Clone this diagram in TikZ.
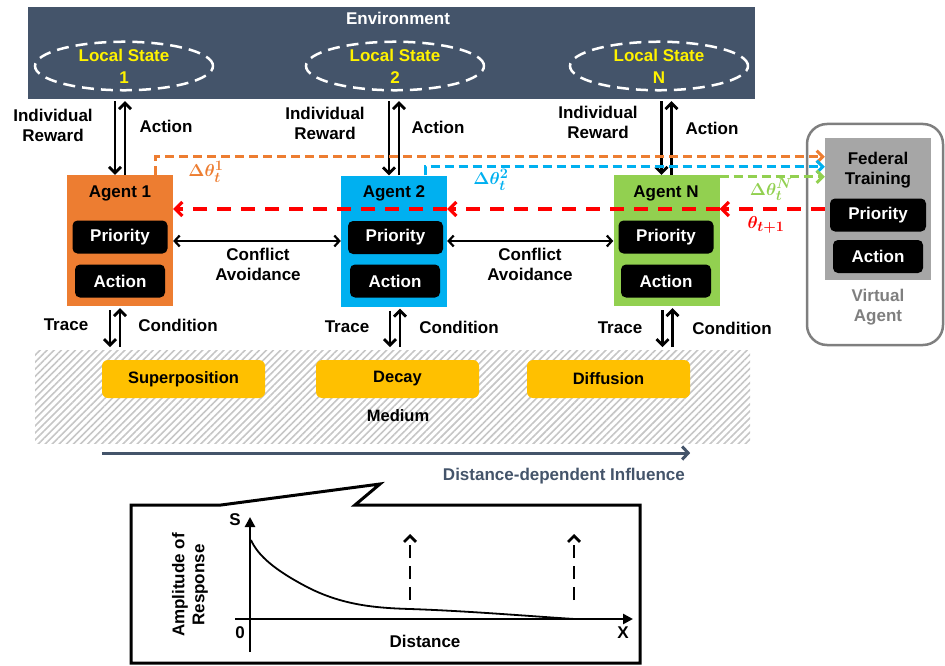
\documentclass[tikz,border=0pt]{standalone}
\usepackage{fontspec}
\usepackage{amsmath}
\usepackage{bm}
\setmainfont{Liberation Sans}
\usetikzlibrary{positioning, arrows.meta, calc, shapes.geometric, patterns.meta}

\definecolor{envblue}{HTML}{44546A}
\definecolor{agentorange}{HTML}{ED7D31}
\definecolor{agentblue}{HTML}{00B0F0}
\definecolor{agentgreen}{HTML}{92D050}
\definecolor{medyellow}{HTML}{FFC000}
\definecolor{fedgray}{HTML}{A6A6A6}
\definecolor{vgray}{HTML}{7F7F7F}

\begin{document}
\begin{tikzpicture}[
        x=1pt, y=-1pt,
        font=\fontsize{17}{20}\selectfont\bfseries,
        agent/.style={rectangle, minimum width=106pt, minimum height=131pt, inner sep=0pt},
        blk/.style={rectangle, rounded corners=5pt, fill=black, text=white, minimum height=33pt, inner sep=0pt},
        medbox/.style={rectangle, rounded corners=6pt, fill=medyellow, minimum width=163pt, minimum height=38pt, inner sep=0pt, font=\fontsize{16.5}{19}\selectfont\bfseries},
        lstate/.style={ellipse, draw=white, line width=2.5pt, dash pattern=on 12pt off 7pt, minimum width=178pt, minimum height=47pt, inner sep=0pt, text=yellow, align=center, font=\fontsize{17}{22}\selectfont\bfseries},
        lbl/.style={align=center, inner sep=0pt},
        arrow/.style={-{Straight Barb[length=6pt, width=12pt]}, line width=2.8pt},
        biarrow/.style={{Straight Barb[length=5pt, width=11pt]}-{Straight Barb[length=5pt, width=11pt]}, line width=2.2pt},
        dasharrow/.style={-{Straight Barb[length=6pt, width=12pt]}, line width=3pt, dash pattern=on 9pt off 5pt},
        redarrow/.style={-{Straight Barb[length=7pt, width=14pt]}, line width=3.2pt, dash pattern=on 14pt off 10pt, red},
        axis/.style={-{Triangle[length=10pt, width=10pt]}, line width=2.8pt}
    ]
    \useasboundingbox (0,0) rectangle (945,666);

    % environment
    \node[rectangle, fill=envblue, minimum width=727pt, minimum height=92pt, inner sep=0pt] (env) at (391.5,53) {};
    \node[lbl, text=white] (envt) at (398,18) {Environment};
    \node[lstate] (ls1) at (124,66) {Local State\\1};
    \node[lstate] (ls2) at (395,66) {Local State\\2};
    \node[lstate] (lsN) at (659,66) {Local State\\N};

    % agents
    \node[agent, fill=agentorange] (a1) at (120,240.5) {};
    \node[lbl] (a1t) at (120,193) {Agent 1};
    \node[blk, minimum width=95pt] (p1) at (120,237) {Priority};
    \node[blk, minimum width=90pt] (ac1) at (120,281) {Action};

    \node[agent, fill=agentblue] (a2) at (394,241) {};
    \node[lbl] (a2t) at (394,193) {Agent 2};
    \node[blk, minimum width=95pt] (p2) at (395.5,237.5) {Priority};
    \node[blk, minimum width=90pt] (ac2) at (395,281) {Action};

    \node[agent, fill=agentgreen] (aN) at (666.5,240.5) {};
    \node[lbl] (aNt) at (666,193) {Agent N};
    \node[blk, minimum width=95pt] (pN) at (666,237) {Priority};
    \node[blk, minimum width=90pt] (acN) at (666,281) {Action};

    % virtual agent
    \node[rectangle, rounded corners=20pt, draw=vgray, line width=2.5pt, minimum width=136pt, minimum height=221pt] (vbox) at (875,234.5) {};
    \node[rectangle, fill=fedgray, minimum width=106pt, minimum height=142pt, inner sep=0pt] (fed) at (878,209) {};
    \node[lbl] (fedt) at (878,170) {Federal\\Training};
    \node[blk, minimum width=96pt] (fp) at (878,215) {Priority};
    \node[blk, minimum width=90pt] (fa) at (878,256.5) {Action};
    \node[lbl, text=vgray] (vt) at (878,307) {Virtual\\Agent};

    % reward / action
    \draw[arrow] ($(env.south -| a1.north)+(-5,2)$) -- ($(a1.north)+(-5,0)$);
    \draw[arrow] ($(a1.north)+(5,0)$) -- ($(env.south -| a1.north)+(5,2)$);
    \draw[arrow] ($(env.south -| a2.north)+(-5,2)$) -- ($(a2.north)+(-5,0)$);
    \draw[arrow] ($(a2.north)+(5,0)$) -- ($(env.south -| a2.north)+(5,2)$);
    \draw[arrow] ($(env.south -| aN.north)+(-5,2)$) -- ($(aN.north)+(-5,0)$);
    \draw[arrow] ($(aN.north)+(5,0)$) -- ($(env.south -| aN.north)+(5,2)$);
    \node[lbl] (rw1) at (53,125) {Individual\\Reward};
    \node[lbl] (act1) at (166,126) {Action};
    \node[lbl] (rw2) at (325,123) {Individual\\Reward};
    \node[lbl] (act2) at (438,127) {Action};
    \node[lbl] (rwN) at (598,122) {Individual\\Reward};
    \node[lbl] (actN) at (712,128) {Action};

    % federal updates
    \coordinate (inO) at ($(fed.north west)+(0,19)$);
    \coordinate (inB) at ($(fed.north west)+(0,29)$);
    \coordinate (inG) at ($(fed.north west)+(0,39)$);
    \draw[dasharrow, agentorange] ($(a1.north)+(35,0)$) |- (inO);
    \draw[dasharrow, agentblue] ($(a2.north)+(31,0)$) |- (inB);
    \draw[dasharrow, agentgreen] (aN.east |- inG) -- (inG);
    \node[lbl, text=agentorange, font=\fontsize{19}{20}\selectfont] (dt1) at (206,172) {$\bm{\Delta\theta_t^1}$};
    \node[lbl, text=agentblue, font=\fontsize{19}{20}\selectfont] (dt2) at (491,180) {$\bm{\Delta\theta_t^2}$};
    \node[lbl, text=agentgreen, font=\fontsize{19}{20}\selectfont] (dtN) at (771,190) {$\bm{\Delta\theta_t^N}$};

    \draw[redarrow] (fed.west) -- (fed.west -| aN.east);
    \draw[redarrow] (fed.west -| aN.east) -- (fed.west -| a2.east);
    \draw[redarrow] (fed.west -| a2.east) -- (fed.west -| a1.east);
    \node[lbl, text=red, font=\fontsize{19}{20}\selectfont] (thr) at (766,225) {$\bm{\theta_{t+1}}$};

    % conflict avoidance
    \draw[biarrow] ($(a1.east |- p1)+(0,4)$) -- ($(a2.west |- p1)+(0,4)$);
    \draw[biarrow] ($(a2.east |- p1)+(0,4)$) -- ($(aN.west |- p1)+(0,4)$);
    \node[lbl] (ca1) at (258,264) {Conflict\\Avoidance};
    \node[lbl] (ca2) at (530,264) {Conflict\\Avoidance};

    % medium
    \node[rectangle, pattern={Lines[angle=45, distance=5pt, line width=1.6pt]}, pattern color=gray!45, minimum width=715pt, minimum height=93pt, inner sep=0pt] (med) at (392.5,396.5) {};
    \node[medbox] (sup) at (183.5,379) {Superposition};
    \node[medbox] (dec) at (397.5,379) {Decay};
    \node[medbox] (dif) at (608.5,379) {Diffusion};
    \node[lbl, font=\fontsize{16.5}{19}\selectfont\bfseries] (medt) at (398,416) {Medium};

    % trace / condition
    \draw[arrow] ($(a1.south)+(-10,4)$) -- ($(a1.south |- med.north)+(-10,-2)$);
    \draw[arrow] ($(a1.south |- med.north)+(0,-2)$) -- ($(a1.south)+(0,2)$);
    \draw[arrow] ($(a2.south)+(-4,4)$) -- ($(a2.south |- med.north)+(-4,-2)$);
    \draw[arrow] ($(a2.south |- med.north)+(6,-2)$) -- ($(a2.south)+(6,2)$);
    \draw[arrow] ($(aN.south)+(-4,4)$) -- ($(aN.south |- med.north)+(-4,-2)$);
    \draw[arrow] ($(aN.south |- med.north)+(6,-2)$) -- ($(aN.south)+(6,2)$);
    \node[lbl] (tr1) at (66,325) {Trace};
    \node[lbl] (cd1) at (178,325) {Condition};
    \node[lbl] (tr2) at (347,327) {Trace};
    \node[lbl] (cd2) at (459,327) {Condition};
    \node[lbl] (trN) at (620,328) {Trace};
    \node[lbl] (cdN) at (732,328) {Condition};

    % influence
    \coordinate (inflL) at (sup.west |- 0,453);
    \coordinate (inflR) at (dif.east |- 0,453);
    \draw[envblue, line width=3pt, -{Straight Barb[length=6pt, width=13pt]}] (inflL) -- (inflR);
    \node[lbl, text=envblue, anchor=east] (inflt) at (685,476) {Distance-dependent Influence};

    % callout with response curve
    \draw[line width=3pt, line join=miter] (131,505) -- (221,505) -- (380,484) -- (355,505) -- (640,505) -- (640,663) -- (131,663) -- cycle;
    \draw[axis] (250,652) -- (250,517);
    \draw[axis] (235,619) -- (633,619);
    \draw[line width=1.8pt] (251,540) .. controls (258,556) and (276,571) .. (309,588) .. controls (343,605) and (375,608) .. (410,609) .. controls (470,611) and (540,617) .. (575,619);
    \draw[arrow, dash pattern=on 13pt off 8pt] (410,600) -- (410,534);
    \draw[arrow, dash pattern=on 13pt off 8pt] (574,600) -- (574,534);
    \node[lbl] (sl) at (235,520) {S};
    \node[lbl] (zl) at (240,633) {0};
    \node[lbl] (xl) at (623,633) {X};
    \node[lbl] (dl) at (425,641) {Distance};
    \node[lbl, rotate=90] (al) at (190,585) {Amplitude of\\Response};
\end{tikzpicture}
\end{document}
